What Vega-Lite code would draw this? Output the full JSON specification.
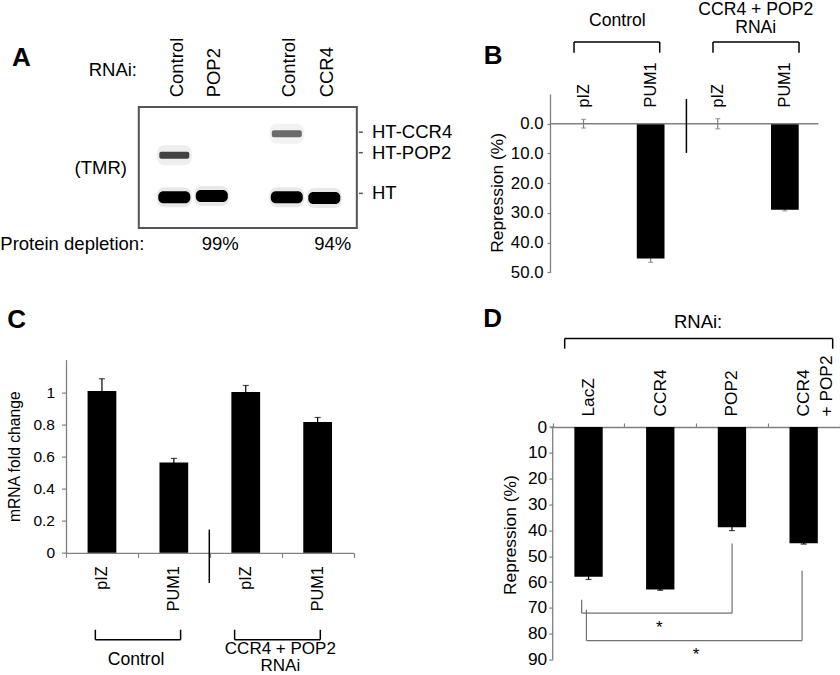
{
  "$schema": "https://vega.github.io/schema/vega-lite/v6.json",
  "padding": 0,
  "autosize": {"type": "pad"},
  "columns": 2,
  "bounds": "flush",
  "align": "each",
  "spacing": {"row": 86.6, "column": 196},
  "config": {
    "font": "Liberation Sans",
    "view": {"stroke": null},
    "axis": {"labelFont": "Liberation Sans", "titleFont": "Liberation Sans", "domainColor": "#808080", "tickColor": "#808080", "labelColor": "#000000", "titleColor": "#000000", "titleFontWeight": "normal", "grid": false, "domainWidth": 1.3, "tickWidth": 1.2, "labelOverlap": false, "labelFlush": false},
    "text": {"font": "Liberation Sans", "color": "#000000"}
  },
  "datasets": {
    "blot": [
      {"lane": 1, "rnai": "Control", "band": "HT-POP2", "rf": 0.399, "intensity": 0.72},
      {"lane": 1, "rnai": "Control", "band": "HT", "rf": 0.745, "intensity": 1},
      {"lane": 2, "rnai": "POP2", "band": "HT", "rf": 0.736, "intensity": 1},
      {"lane": 4, "rnai": "Control", "band": "HT-CCR4", "rf": 0.2206, "intensity": 0.55},
      {"lane": 4, "rnai": "Control", "band": "HT", "rf": 0.745, "intensity": 1},
      {"lane": 5, "rnai": "CCR4", "band": "HT", "rf": 0.753, "intensity": 1}
    ],
    "lanes": [
      {"lane": 1, "rnai": "Control"},
      {"lane": 2, "rnai": "POP2"},
      {"lane": 4, "rnai": "Control"},
      {"lane": 5, "rnai": "CCR4"}
    ],
    "markers": [
      {"marker": "HT-CCR4", "rf": 0.2074},
      {"marker": "HT-POP2", "rf": 0.377},
      {"marker": "HT", "rf": 0.714}
    ],
    "depletion": [
      {"lane": 2, "depletion": "99%"},
      {"lane": 5, "depletion": "94%"}
    ],
    "repB": [
      {"sample": "Control pIZ", "rnai": "Control", "reporter": "pIZ", "repression": 0, "sd": 1.45},
      {"sample": "Control PUM1", "rnai": "Control", "reporter": "PUM1", "repression": 45.3, "sd": 1.3},
      {"sample": "CCR4 + POP2 pIZ", "rnai": "CCR4 + POP2", "reporter": "pIZ", "repression": 0, "sd": 1.7},
      {"sample": "CCR4 + POP2 PUM1", "rnai": "CCR4 + POP2", "reporter": "PUM1", "repression": 28.9, "sd": 0.4}
    ],
    "mrnaC": [
      {"sample": "Control pIZ", "rnai": "Control", "reporter": "pIZ", "fold": 1.011, "sd": 0.077},
      {"sample": "Control PUM1", "rnai": "Control", "reporter": "PUM1", "fold": 0.564, "sd": 0.026},
      {"sample": "CCR4 + POP2 pIZ", "rnai": "CCR4 + POP2", "reporter": "pIZ", "fold": 1.006, "sd": 0.04},
      {"sample": "CCR4 + POP2 PUM1", "rnai": "CCR4 + POP2", "reporter": "PUM1", "fold": 0.817, "sd": 0.029}
    ],
    "repD": [
      {"rnai": "LacZ", "repression": 57.9, "sd": 1.1},
      {"rnai": "CCR4", "repression": 62.9, "sd": 0.3},
      {"rnai": "POP2", "repression": 38.8, "sd": 1.3},
      {"rnai": "CCR4 + POP2", "repression": 45.0, "sd": 0.3}
    ]
  },
  "concat": [
    {
      "width": 287.6,
      "height": 178.4,
      "layer": [
        {
          "data": {"values": [{}]},
          "mark": {"type": "rect", "fillOpacity": 0, "stroke": "#555555", "strokeWidth": 2},
          "encoding": {
            "x": {"datum": 0.053, "type": "quantitative", "scale": {"domain": [-1.888, 5.781], "nice": false, "zero": false}, "axis": null},
            "x2": {"datum": 5.867},
            "y": {"datum": 0, "type": "quantitative", "scale": {"domain": [-0.1086, 1.3679], "reverse": true, "nice": false, "zero": false}, "axis": null},
            "y2": {"datum": 1}
          }
        },
        {
          "data": {"name": "blot"},
          "mark": {"type": "tick", "orient": "horizontal", "thickness": 20, "size": 35, "opacity": 0.09, "cornerRadius": 8},
          "encoding": {
            "x": {"field": "lane", "type": "quantitative", "axis": null},
            "y": {"field": "rf", "type": "quantitative", "axis": null},
            "color": {"field": "intensity", "type": "quantitative", "scale": {"domain": [0, 1], "range": ["#ffffff", "#000000"]}, "legend": null}
          }
        },
        {
          "data": {"name": "blot"},
          "transform": [{"filter": "datum.band === 'HT'"}],
          "mark": {"type": "tick", "orient": "horizontal", "thickness": 12, "size": 32, "cornerRadius": 5, "opacity": 1},
          "encoding": {
            "x": {"field": "lane", "type": "quantitative", "axis": null},
            "y": {"field": "rf", "type": "quantitative", "axis": null},
            "color": {"field": "intensity", "type": "quantitative", "legend": null}
          }
        },
        {
          "data": {"name": "blot"},
          "transform": [{"filter": "datum.band !== 'HT'"}],
          "mark": {"type": "tick", "orient": "horizontal", "thickness": 7, "size": 30, "cornerRadius": 2, "opacity": 1},
          "encoding": {
            "x": {"field": "lane", "type": "quantitative", "axis": null},
            "y": {"field": "rf", "type": "quantitative", "axis": null},
            "color": {"field": "intensity", "type": "quantitative", "legend": null}
          }
        },
        {
          "data": {"name": "lanes"},
          "mark": {"type": "text", "angle": 270, "align": "left", "baseline": "alphabetic", "fontSize": 18.5, "dy": 8.5},
          "encoding": {
            "x": {"field": "lane", "type": "quantitative", "axis": null},
            "y": {"datum": -0.0807, "type": "quantitative", "axis": null},
            "text": {"field": "rnai"}
          }
        },
        {
          "data": {"name": "markers"},
          "mark": {"type": "rule", "color": "#555555", "strokeWidth": 1.5},
          "encoding": {
            "x": {"datum": 5.92, "type": "quantitative", "axis": null},
            "x2": {"datum": 6.027},
            "y": {"field": "rf", "type": "quantitative", "axis": null}
          }
        },
        {
          "data": {"name": "markers"},
          "mark": {"type": "text", "align": "left", "baseline": "alphabetic", "fontSize": 18.5, "dy": 6},
          "encoding": {
            "x": {"datum": 6.272, "type": "quantitative", "axis": null},
            "y": {"field": "rf", "type": "quantitative", "axis": null},
            "text": {"field": "marker"}
          }
        },
        {
          "data": {"name": "depletion"},
          "mark": {"type": "text", "align": "center", "baseline": "alphabetic", "fontSize": 18.5, "dx": 8.5},
          "encoding": {
            "x": {"field": "lane", "type": "quantitative", "axis": null},
            "y": {"datum": 1.181, "type": "quantitative", "axis": null},
            "text": {"field": "depletion"}
          }
        },
        {
          "data": {"values": [{}]},
          "mark": {"type": "text", "text": "A", "align": "left", "baseline": "alphabetic", "fontSize": 26, "fontWeight": "bold"},
          "encoding": {"x": {"datum": -3.328, "type": "quantitative", "axis": null}, "y": {"datum": -0.3416, "type": "quantitative", "axis": null}}
        },
        {
          "data": {"values": [{}]},
          "mark": {"type": "text", "text": "RNAi:", "align": "right", "baseline": "alphabetic", "fontSize": 18.5},
          "encoding": {"x": {"datum": 0.005, "type": "quantitative", "axis": null}, "y": {"datum": -0.259, "type": "quantitative", "axis": null}}
        },
        {
          "data": {"values": [{}]},
          "mark": {"type": "text", "text": "(TMR)", "align": "right", "baseline": "alphabetic", "fontSize": 18.5},
          "encoding": {"x": {"datum": -0.261, "type": "quantitative", "axis": null}, "y": {"datum": 0.55, "type": "quantitative", "axis": null}}
        },
        {
          "data": {"values": [{}]},
          "mark": {"type": "text", "text": "Protein depletion:", "align": "left", "baseline": "alphabetic", "fontSize": 18.5},
          "encoding": {"x": {"datum": -3.64, "type": "quantitative", "axis": null}, "y": {"datum": 1.181, "type": "quantitative", "axis": null}}
        }
      ]
    },
    {
      "width": 268.4,
      "height": 178.4,
      "resolve": {"scale": {"x": "independent", "y": "independent"}},
      "layer": [
        {
          "data": {"name": "repB"},
          "encoding": {
            "x": {"field": "sample", "type": "nominal", "sort": null, "scale": {"paddingInner": 0, "paddingOuter": 0}, "axis": null},
            "y": {"field": "repression", "type": "quantitative", "scale": {"domain": [-10, 50], "reverse": true, "nice": false, "zero": false},
                  "axis": {"values": [0, 10, 20, 30, 40, 50], "format": ".1f", "labelOverlap": false, "title": "Repression (%)", "labelFontSize": 16.8, "titleFontSize": 17.4, "tickSize": 3, "labelPadding": 4, "titlePadding": 4, "titleY": 98.4}}
          },
          "layer": [
            {"mark": {"type": "errorbar", "ticks": {"size": 5}, "color": "#808080", "thickness": 1.2}, "encoding": {"yError": {"field": "sd"}}},
            {"mark": {"type": "bar", "color": "#000000", "width": {"band": 0.413}}}
          ]
        },
        {
          "data": {"name": "repB"},
          "mark": {"type": "text", "angle": 270, "align": "left", "baseline": "middle", "fontSize": 16.2},
          "encoding": {
            "x": {"field": "sample", "type": "nominal", "sort": null, "scale": {"paddingInner": 0, "paddingOuter": 0}, "axis": null},
            "y": {"datum": -5.5, "type": "quantitative", "scale": {"domain": [-10, 50], "reverse": true, "nice": false, "zero": false}, "axis": null},
            "text": {"field": "reporter"}
          }
        },
        {
          "data": {"values": [{}]},
          "layer": [
            {"mark": {"type": "rule", "color": "#808080", "strokeWidth": 1.3}, "encoding": {"y": {"datum": 0, "type": "quantitative", "scale": {"domain": [-10, 50], "reverse": true, "nice": false, "zero": false}, "axis": null}}},
            {"mark": {"type": "rule", "color": "#000000", "strokeWidth": 1.5}, "encoding": {"x": {"datum": 2.033, "type": "quantitative", "scale": {"domain": [0, 4], "nice": false, "zero": false}, "axis": null}, "y": {"datum": -8.3, "type": "quantitative", "axis": null}, "y2": {"datum": 9.8}}},
            {"mark": {"type": "rule", "color": "#000000", "strokeWidth": 1.5}, "encoding": {"x": {"datum": 0.358, "type": "quantitative", "axis": null}, "x2": {"datum": 1.635}, "y": {"datum": -27.5, "type": "quantitative", "axis": null}}},
            {"mark": {"type": "rule", "color": "#000000", "strokeWidth": 1.5}, "encoding": {"x": {"datum": 0.358, "type": "quantitative", "axis": null}, "y": {"datum": -27.5, "type": "quantitative", "axis": null}, "y2": {"datum": -23.9}}},
            {"mark": {"type": "rule", "color": "#000000", "strokeWidth": 1.5}, "encoding": {"x": {"datum": 1.635, "type": "quantitative", "axis": null}, "y": {"datum": -27.5, "type": "quantitative", "axis": null}, "y2": {"datum": -23.9}}},
            {"mark": {"type": "rule", "color": "#000000", "strokeWidth": 1.5}, "encoding": {"x": {"datum": 2.429, "type": "quantitative", "axis": null}, "x2": {"datum": 3.711}, "y": {"datum": -27.5, "type": "quantitative", "axis": null}}},
            {"mark": {"type": "rule", "color": "#000000", "strokeWidth": 1.5}, "encoding": {"x": {"datum": 2.429, "type": "quantitative", "axis": null}, "y": {"datum": -27.5, "type": "quantitative", "axis": null}, "y2": {"datum": -23.9}}},
            {"mark": {"type": "rule", "color": "#000000", "strokeWidth": 1.5}, "encoding": {"x": {"datum": 3.711, "type": "quantitative", "axis": null}, "y": {"datum": -27.5, "type": "quantitative", "axis": null}, "y2": {"datum": -23.9}}},
            {"mark": {"type": "text", "text": "B", "align": "left", "baseline": "alphabetic", "fontSize": 26, "fontWeight": "bold"}, "encoding": {"x": {"datum": -0.988, "type": "quantitative", "axis": null}, "y": {"datum": -19.98, "type": "quantitative", "axis": null}}},
            {"mark": {"type": "text", "text": "Control", "align": "center", "baseline": "alphabetic", "fontSize": 17.6}, "encoding": {"x": {"datum": 1.004, "type": "quantitative", "axis": null}, "y": {"datum": -32.8, "type": "quantitative", "axis": null}}},
            {"mark": {"type": "text", "text": "CCR4 + POP2", "align": "center", "baseline": "alphabetic", "fontSize": 17.6}, "encoding": {"x": {"datum": 3.066, "type": "quantitative", "axis": null}, "y": {"datum": -36.6, "type": "quantitative", "axis": null}}},
            {"mark": {"type": "text", "text": "RNAi", "align": "center", "baseline": "alphabetic", "fontSize": 17.6}, "encoding": {"x": {"datum": 3.066, "type": "quantitative", "axis": null}, "y": {"datum": -30.4, "type": "quantitative", "axis": null}}}
          ]
        }
      ]
    },
    {
      "width": 287.6,
      "height": 193.2,
      "resolve": {"scale": {"x": "independent", "y": "independent"}},
      "layer": [
        {
          "data": {"name": "mrnaC"},
          "encoding": {
            "x": {"field": "sample", "type": "nominal", "sort": null, "scale": {"paddingInner": 0, "paddingOuter": 0},
                  "axis": {"orient": "bottom", "labels": false, "tickBand": "extent", "tickSize": 4.5, "title": null}},
            "y": {"field": "fold", "type": "quantitative", "scale": {"domain": [0, 1.2078], "nice": false, "zero": false},
                  "axis": {"values": [0, 0.2, 0.4, 0.6, 0.8, 1], "format": "~g", "labelOverlap": false, "title": "mRNA fold change", "labelFontSize": 15.5, "titleFontSize": 15.7, "tickSize": 4.5, "labelPadding": 7, "titlePadding": 10}}
          },
          "layer": [
            {"mark": {"type": "errorbar", "ticks": {"size": 6}, "color": "#000000", "thickness": 1.2}, "encoding": {"yError": {"field": "sd"}}},
            {"mark": {"type": "bar", "color": "#000000", "width": {"band": 0.4}}}
          ]
        },
        {
          "data": {"name": "mrnaC"},
          "mark": {"type": "text", "angle": 270, "align": "right", "baseline": "middle", "fontSize": 16.2},
          "encoding": {
            "x": {"field": "sample", "type": "nominal", "sort": null, "scale": {"paddingInner": 0, "paddingOuter": 0}, "axis": null},
            "y": {"datum": -0.0845, "type": "quantitative", "scale": {"domain": [0, 1.2078], "nice": false, "zero": false}, "axis": null},
            "text": {"field": "reporter"}
          }
        },
        {
          "data": {"values": [{}]},
          "layer": [
            {"mark": {"type": "rule", "color": "#000000", "strokeWidth": 1.5}, "encoding": {"x": {"datum": 1.993, "type": "quantitative", "scale": {"domain": [0, 4], "nice": false, "zero": false}, "axis": null}, "y": {"datum": 0.145, "type": "quantitative", "scale": {"domain": [0, 1.2078], "nice": false, "zero": false}, "axis": null}, "y2": {"datum": -0.189}}},
            {"mark": {"type": "rule", "color": "#000000", "strokeWidth": 1.5}, "encoding": {"x": {"datum": 0.408, "type": "quantitative", "axis": null}, "x2": {"datum": 1.594}, "y": {"datum": -0.543, "type": "quantitative", "axis": null}}},
            {"mark": {"type": "rule", "color": "#000000", "strokeWidth": 1.5}, "encoding": {"x": {"datum": 0.408, "type": "quantitative", "axis": null}, "y": {"datum": -0.543, "type": "quantitative", "axis": null}, "y2": {"datum": -0.481}}},
            {"mark": {"type": "rule", "color": "#000000", "strokeWidth": 1.5}, "encoding": {"x": {"datum": 1.594, "type": "quantitative", "axis": null}, "y": {"datum": -0.543, "type": "quantitative", "axis": null}, "y2": {"datum": -0.481}}},
            {"mark": {"type": "rule", "color": "#000000", "strokeWidth": 1.5}, "encoding": {"x": {"datum": 2.345, "type": "quantitative", "axis": null}, "x2": {"datum": 3.537}, "y": {"datum": -0.543, "type": "quantitative", "axis": null}}},
            {"mark": {"type": "rule", "color": "#000000", "strokeWidth": 1.5}, "encoding": {"x": {"datum": 2.345, "type": "quantitative", "axis": null}, "y": {"datum": -0.543, "type": "quantitative", "axis": null}, "y2": {"datum": -0.481}}},
            {"mark": {"type": "rule", "color": "#000000", "strokeWidth": 1.5}, "encoding": {"x": {"datum": 3.537, "type": "quantitative", "axis": null}, "y": {"datum": -0.543, "type": "quantitative", "axis": null}, "y2": {"datum": -0.481}}},
            {"mark": {"type": "text", "text": "C", "align": "left", "baseline": "alphabetic", "fontSize": 26, "fontWeight": "bold"}, "encoding": {"x": {"datum": -0.816, "type": "quantitative", "axis": null}, "y": {"datum": 1.407, "type": "quantitative", "axis": null}}},
            {"mark": {"type": "text", "text": "Control", "align": "center", "baseline": "alphabetic", "fontSize": 17.6}, "encoding": {"x": {"datum": 0.974, "type": "quantitative", "axis": null}, "y": {"datum": -0.70, "type": "quantitative", "axis": null}}},
            {"mark": {"type": "text", "text": ["CCR4 + POP2", "RNAi"], "lineHeight": 17, "align": "center", "baseline": "alphabetic", "fontSize": 17}, "encoding": {"x": {"datum": 2.981, "type": "quantitative", "axis": null}, "y": {"datum": -0.635, "type": "quantitative", "axis": null}}}
          ]
        }
      ]
    },
    {
      "width": 289.5,
      "height": 300,
      "resolve": {"scale": {"x": "independent", "y": "independent"}},
      "layer": [
        {
          "data": {"name": "repD"},
          "encoding": {
            "x": {"field": "rnai", "type": "nominal", "sort": null, "scale": {"domain": ["LacZ", "CCR4", "POP2", "CCR4 + POP2"], "paddingInner": 0, "paddingOuter": 0.0188, "align": 1},
                  "axis": {"orient": "top", "offset": -67.4, "labelAngle": -90, "labelFontSize": 17.3, "tickBand": "extent", "tickSize": 4, "labelPadding": 7, "labelExpr": "datum.value == 'CCR4 + POP2' ? ['CCR4', '+ POP2'] : datum.value", "labelLineHeight": 23, "labelOverlap": false, "title": null}},
            "y": {"field": "repression", "type": "quantitative", "scale": {"domain": [-26.08, 90], "reverse": true, "nice": false, "zero": false},
                  "axis": {"values": [0, 10, 20, 30, 40, 50, 60, 70, 80, 90], "format": "d", "labelOverlap": false, "domain": false, "offset": -2.7, "title": "Repression (%)", "labelFontSize": 17.3, "titleFontSize": 17.4, "tickSize": 4, "labelPadding": 2, "titlePadding": 8, "titleY": 175}}
          },
          "layer": [
            {"mark": {"type": "errorbar", "ticks": {"size": 6}, "color": "#000000", "thickness": 1.2}, "encoding": {"yError": {"field": "sd"}}},
            {"mark": {"type": "bar", "color": "#000000", "width": {"band": 0.395}}}
          ]
        },
        {
          "data": {"values": [{}]},
          "layer": [
            {"mark": {"type": "rule", "color": "#808080", "strokeWidth": 1.3}, "encoding": {"x": {"datum": 0, "type": "quantitative", "scale": {"domain": [-0.0377, 4], "nice": false, "zero": false}, "axis": null}, "y": {"datum": 0, "type": "quantitative", "scale": {"domain": [-26.08, 90], "reverse": true, "nice": false, "zero": false}, "axis": null}, "y2": {"datum": 90}}},
            {"mark": {"type": "rule", "color": "#000000", "strokeWidth": 1.5}, "encoding": {"x": {"datum": 0.167, "type": "quantitative", "axis": null}, "x2": {"datum": 3.905}, "y": {"datum": -34.2, "type": "quantitative", "axis": null}}},
            {"mark": {"type": "rule", "color": "#000000", "strokeWidth": 1.5}, "encoding": {"x": {"datum": 0.167, "type": "quantitative", "axis": null}, "y": {"datum": -34.2, "type": "quantitative", "axis": null}, "y2": {"datum": -30.3}}},
            {"mark": {"type": "rule", "color": "#000000", "strokeWidth": 1.5}, "encoding": {"x": {"datum": 3.905, "type": "quantitative", "axis": null}, "y": {"datum": -34.2, "type": "quantitative", "axis": null}, "y2": {"datum": -30.3}}},
            {"mark": {"type": "rule", "color": "#707070", "strokeWidth": 1.2}, "encoding": {"x": {"datum": 0.404, "type": "quantitative", "axis": null}, "y": {"datum": 66.8, "type": "quantitative", "axis": null}, "y2": {"datum": 72.0}}},
            {"mark": {"type": "rule", "color": "#707070", "strokeWidth": 1.2}, "encoding": {"x": {"datum": 0.404, "type": "quantitative", "axis": null}, "x2": {"datum": 2.502}, "y": {"datum": 72.0, "type": "quantitative", "axis": null}}},
            {"mark": {"type": "rule", "color": "#707070", "strokeWidth": 1.2}, "encoding": {"x": {"datum": 2.502, "type": "quantitative", "axis": null}, "y": {"datum": 45.1, "type": "quantitative", "axis": null}, "y2": {"datum": 72.0}}},
            {"mark": {"type": "rule", "color": "#707070", "strokeWidth": 1.2}, "encoding": {"x": {"datum": 0.470, "type": "quantitative", "axis": null}, "y": {"datum": 70.7, "type": "quantitative", "axis": null}, "y2": {"datum": 82.65}}},
            {"mark": {"type": "rule", "color": "#707070", "strokeWidth": 1.2}, "encoding": {"x": {"datum": 0.470, "type": "quantitative", "axis": null}, "x2": {"datum": 3.478}, "y": {"datum": 82.65, "type": "quantitative", "axis": null}}},
            {"mark": {"type": "rule", "color": "#707070", "strokeWidth": 1.2}, "encoding": {"x": {"datum": 3.478, "type": "quantitative", "axis": null}, "y": {"datum": 55.6, "type": "quantitative", "axis": null}, "y2": {"datum": 82.65}}},
            {"mark": {"type": "text", "text": "*", "align": "center", "baseline": "alphabetic", "fontSize": 17}, "encoding": {"x": {"datum": 1.488, "type": "quantitative", "axis": null}, "y": {"datum": 79.8, "type": "quantitative", "axis": null}}},
            {"mark": {"type": "text", "text": "*", "align": "center", "baseline": "alphabetic", "fontSize": 17}, "encoding": {"x": {"datum": 2.0, "type": "quantitative", "axis": null}, "y": {"datum": 90.3, "type": "quantitative", "axis": null}}},
            {"mark": {"type": "text", "text": "D", "align": "left", "baseline": "alphabetic", "fontSize": 26, "fontWeight": "bold"}, "encoding": {"x": {"datum": -0.967, "type": "quantitative", "axis": null}, "y": {"datum": -38.58, "type": "quantitative", "axis": null}}},
            {"mark": {"type": "text", "text": "RNAi:", "align": "center", "baseline": "alphabetic", "fontSize": 18.5}, "encoding": {"x": {"datum": 2.028, "type": "quantitative", "axis": null}, "y": {"datum": -38.3, "type": "quantitative", "axis": null}}}
          ]
        }
      ]
    }
  ]
}
